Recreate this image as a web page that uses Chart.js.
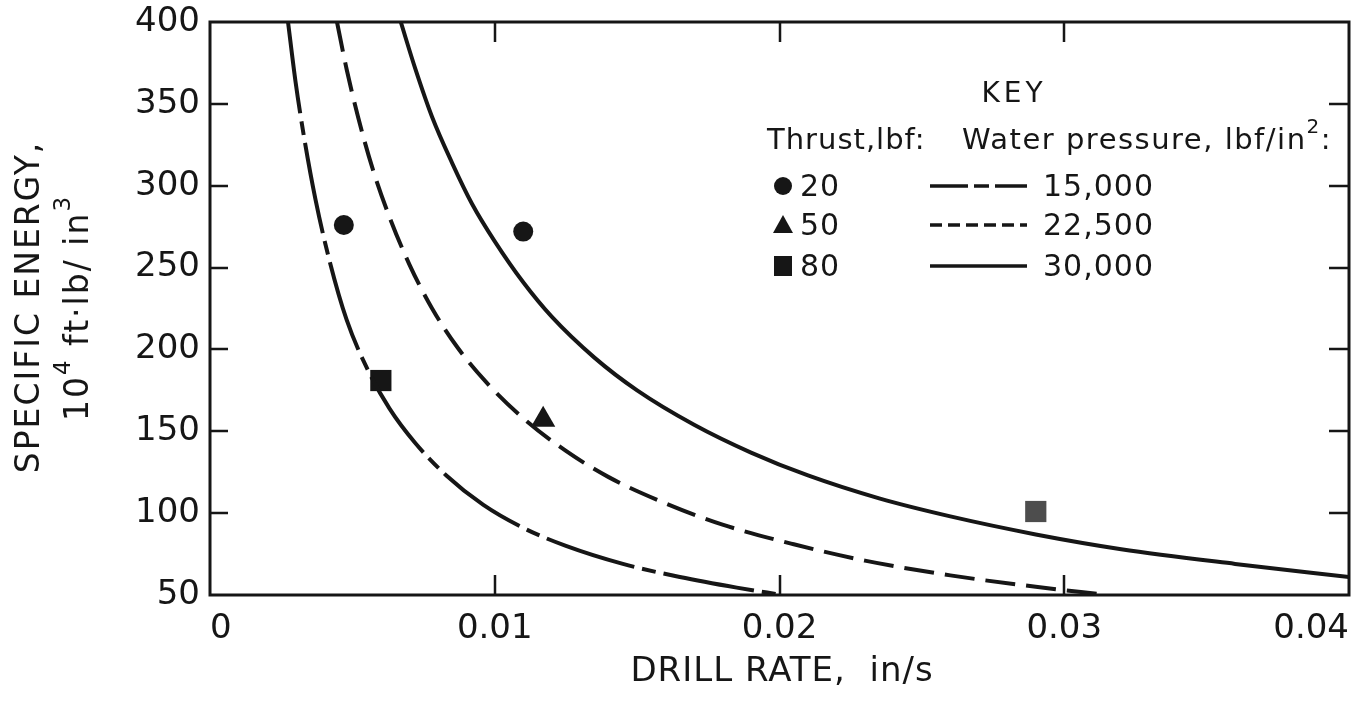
<!DOCTYPE html>
<html>
<head>
<meta charset="utf-8">
<script src="https://cdn.jsdelivr.net/npm/chart.js@4"></script>
<style>
  html, body { margin: 0; padding: 0; background: #fff; }
  canvas { display: block; background: #fff; }
</style>
</head>
<body>
<canvas id="energyChart" width="1364" height="702"></canvas>
<script>
// drill rate (in/s) and specific energy (10^4 ft-lb/in^3) along each pressure curve
const rate15k = [0.00274, 0.0030, 0.0033, 0.0037, 0.0042, 0.0048, 0.0055, 0.0063, 0.0072, 0.0083, 0.0096, 0.0110, 0.0125, 0.0145, 0.0165, 0.0185, 0.0201];
const energy15k = [400, 364, 330, 292, 254, 218, 189, 164, 143, 123, 105, 91, 80, 69, 61, 54.5, 50];

const rate22k = [0.00446, 0.0048, 0.0052, 0.0057, 0.0063, 0.0070, 0.0078, 0.0087, 0.0097, 0.0110, 0.0125, 0.0140, 0.0160, 0.0180, 0.0205, 0.0230, 0.0260, 0.0290, 0.0315];
const energy22k = [400, 371, 342, 311, 281, 252, 225, 201, 180, 158, 138, 122, 106, 93, 81, 71, 62, 55, 50];

const rate30k = [0.0067, 0.0072, 0.0078, 0.0085, 0.0092, 0.0100, 0.0110, 0.0120, 0.0135, 0.0150, 0.0170, 0.0190, 0.0210, 0.0235, 0.0260, 0.0290, 0.0320, 0.0360, 0.0400];
const energy30k = [400, 372, 342, 314, 289, 266, 241, 220, 195, 175, 154, 137, 123, 109, 98, 87, 78, 69, 61];

// measured points by thrust
const rate20 = [0.0047, 0.0110];
const energy20 = [276, 272];
const rate50 = [0.0117];
const energy50 = [157];
const rate80 = [0.0060, 0.0290];
const energy80 = [181, 101];

const xTicks = [0, 0.01, 0.02, 0.03, 0.04];
const xTickLabels = ["0", "0.01", "0.02", "0.03", "0.04"];
const yTicks = [50, 100, 150, 200, 250, 300, 350, 400];

const thrustLabels = ["20", "50", "80"];
const pressureLabels = ["15,000", "22,500", "30,000"];

const ink = "#161616";
const font = "'DejaVu Sans', sans-serif";
const dashLong = [92, 8, 14, 8];
const dashShort = [30, 11];

const toPoints = (xs, ys) => xs.map((x, i) => ({ x: x, y: ys[i] }));

function curve(xs, ys, dash) {
  return {
    data: toPoints(xs, ys),
    showLine: true,
    borderColor: ink,
    borderWidth: 4,
    borderDash: dash,
    pointRadius: 0,
    cubicInterpolationMode: "monotone",
    fill: false
  };
}

function marks(xs, ys, style, radius, colors) {
  return {
    data: toPoints(xs, ys),
    showLine: false,
    pointStyle: style,
    pointRadius: radius,
    backgroundColor: colors,
    borderColor: colors,
    borderWidth: 0
  };
}

// box with inward ticks on every side
const frame = {
  id: "frame",
  afterDatasetsDraw(chart) {
    const { ctx, chartArea: a, scales: { x, y } } = chart;
    ctx.save();
    ctx.strokeStyle = ink;
    ctx.lineWidth = 3;
    ctx.strokeRect(a.left, a.top, a.right - a.left, a.bottom - a.top);
    ctx.lineWidth = 2.5;
    ctx.beginPath();
    yTicks.slice(1, -1).forEach(v => {
      const py = Math.round(y.getPixelForValue(v));
      ctx.moveTo(a.left, py);
      ctx.lineTo(a.left + 18, py);
      ctx.moveTo(a.right - 20, py);
      ctx.lineTo(a.right, py);
    });
    xTicks.slice(1, -1).forEach(v => {
      const px = Math.round(x.getPixelForValue(v));
      ctx.moveTo(px, a.bottom);
      ctx.lineTo(px, a.bottom - 20);
      ctx.moveTo(px, a.top);
      ctx.lineTo(px, a.top + 20);
    });
    ctx.stroke();
    ctx.restore();
  }
};

// writes text with raised small figures in it, returns the end x
function withSup(ctx, parts, x, y, size) {
  let cx = x;
  parts.forEach(p => {
    ctx.font = (p.sup ? Math.round(size * 0.7) : size) + "px " + font;
    ctx.fillText(p.t, cx, p.sup ? y - size * 0.45 : y);
    cx += ctx.measureText(p.t).width;
  });
  return cx;
}

function partsWidth(ctx, parts, size) {
  return parts.reduce((w, p) => {
    ctx.font = (p.sup ? Math.round(size * 0.7) : size) + "px " + font;
    return w + ctx.measureText(p.t).width;
  }, 0);
}

const titlesAndKey = {
  id: "titlesAndKey",
  afterDraw(chart) {
    const ctx = chart.ctx;
    ctx.save();
    ctx.fillStyle = ink;
    ctx.textBaseline = "middle";

    // x axis title
    ctx.textAlign = "center";
    ctx.font = "34px " + font;
    ctx.letterSpacing = "1px";
    ctx.fillText("DRILL RATE,  in/s", 782, 672);

    // y axis title, two rotated lines
    ctx.letterSpacing = "2px";
    ctx.save();
    ctx.translate(30, 307);
    ctx.rotate(-Math.PI / 2);
    ctx.font = "33px " + font;
    ctx.fillText("SPECIFIC ENERGY,", 0, 0);
    ctx.restore();

    ctx.save();
    ctx.translate(79, 308);
    ctx.rotate(-Math.PI / 2);
    ctx.textAlign = "left";
    const unit = [{ t: "10" }, { t: "4", sup: true }, { t: " ft\u00b7lb/ in" }, { t: "3", sup: true }];
    withSup(ctx, unit, -partsWidth(ctx, unit, 33) / 2, 0, 33);
    ctx.restore();

    // key
    ctx.textAlign = "center";
    ctx.font = "28px " + font;
    ctx.letterSpacing = "4px";
    ctx.fillText("KEY", 1014, 95);

    ctx.textAlign = "left";
    ctx.letterSpacing = "1px";
    ctx.font = "29px " + font;
    ctx.fillText("Thrust,lbf:", 767, 141);
    ctx.letterSpacing = "1.5px";
    withSup(ctx, [{ t: "Water pressure, lbf/in" }, { t: "2", sup: true }, { t: ":" }], 962, 141, 29);
    ctx.letterSpacing = "1px";

    const rows = [186, 225, 266];
    const mx = 783;
    ctx.beginPath();
    ctx.arc(mx, rows[0], 9, 0, Math.PI * 2);
    ctx.fill();
    ctx.beginPath();
    ctx.moveTo(mx, rows[1] - 10);
    ctx.lineTo(mx + 10, rows[1] + 8);
    ctx.lineTo(mx - 10, rows[1] + 8);
    ctx.closePath();
    ctx.fill();
    ctx.fillRect(mx - 9, rows[2] - 10, 18, 20);

    ctx.font = "30px " + font;
    thrustLabels.forEach((t, i) => ctx.fillText(t, 800, rows[i] + 2));
    pressureLabels.forEach((t, i) => ctx.fillText(t, 1043, rows[i] + 2));

    const samples = [[38, 6, 15, 6], [12, 6], []];
    ctx.strokeStyle = ink;
    ctx.lineWidth = 3.5;
    samples.forEach((d, i) => {
      ctx.setLineDash(d);
      ctx.beginPath();
      ctx.moveTo(930, rows[i]);
      ctx.lineTo(1027, rows[i]);
      ctx.stroke();
    });
    ctx.restore();
  }
};

new Chart(document.getElementById("energyChart"), {
  type: "scatter",
  data: {
    datasets: [
      curve(rate15k, energy15k, dashLong),
      curve(rate22k, energy22k, dashShort),
      curve(rate30k, energy30k, []),
      marks(rate20, energy20, "circle", 10, ink),
      marks(rate50, energy50, "triangle", 14, ink),
      marks(rate80, energy80, "rect", 15, [ink, "#4d4d4d"])
    ]
  },
  options: {
    responsive: false,
    animation: false,
    layout: { padding: { top: 22, right: 14, left: 0, bottom: 0 } },
    plugins: {
      legend: { display: false },
      tooltip: { enabled: false }
    },
    scales: {
      x: {
        type: "linear",
        min: 0,
        max: 0.04,
        afterBuildTicks: s => { s.ticks = xTicks.map(v => ({ value: v })); },
        grid: { display: false, drawTicks: false },
        border: { display: false },
        ticks: {
          color: ink,
          font: { family: font, size: 34 },
          padding: 14,
          align: "inner",
          maxRotation: 0,
          callback: (v, i) => xTickLabels[i]
        },
        afterFit: s => { s.height = 107; s.paddingLeft = 0; s.paddingRight = 0; }
      },
      y: {
        type: "linear",
        min: 50,
        max: 400,
        afterBuildTicks: s => { s.ticks = yTicks.map(v => ({ value: v })); },
        grid: { display: false, drawTicks: false },
        border: { display: false },
        ticks: {
          color: ink,
          font: { family: font, size: 34 },
          padding: 10
        },
        afterFit: s => { s.width = 210; s.paddingTop = 0; s.paddingBottom = 0; }
      }
    }
  },
  plugins: [frame, titlesAndKey]
});
</script>
</body>
</html>
